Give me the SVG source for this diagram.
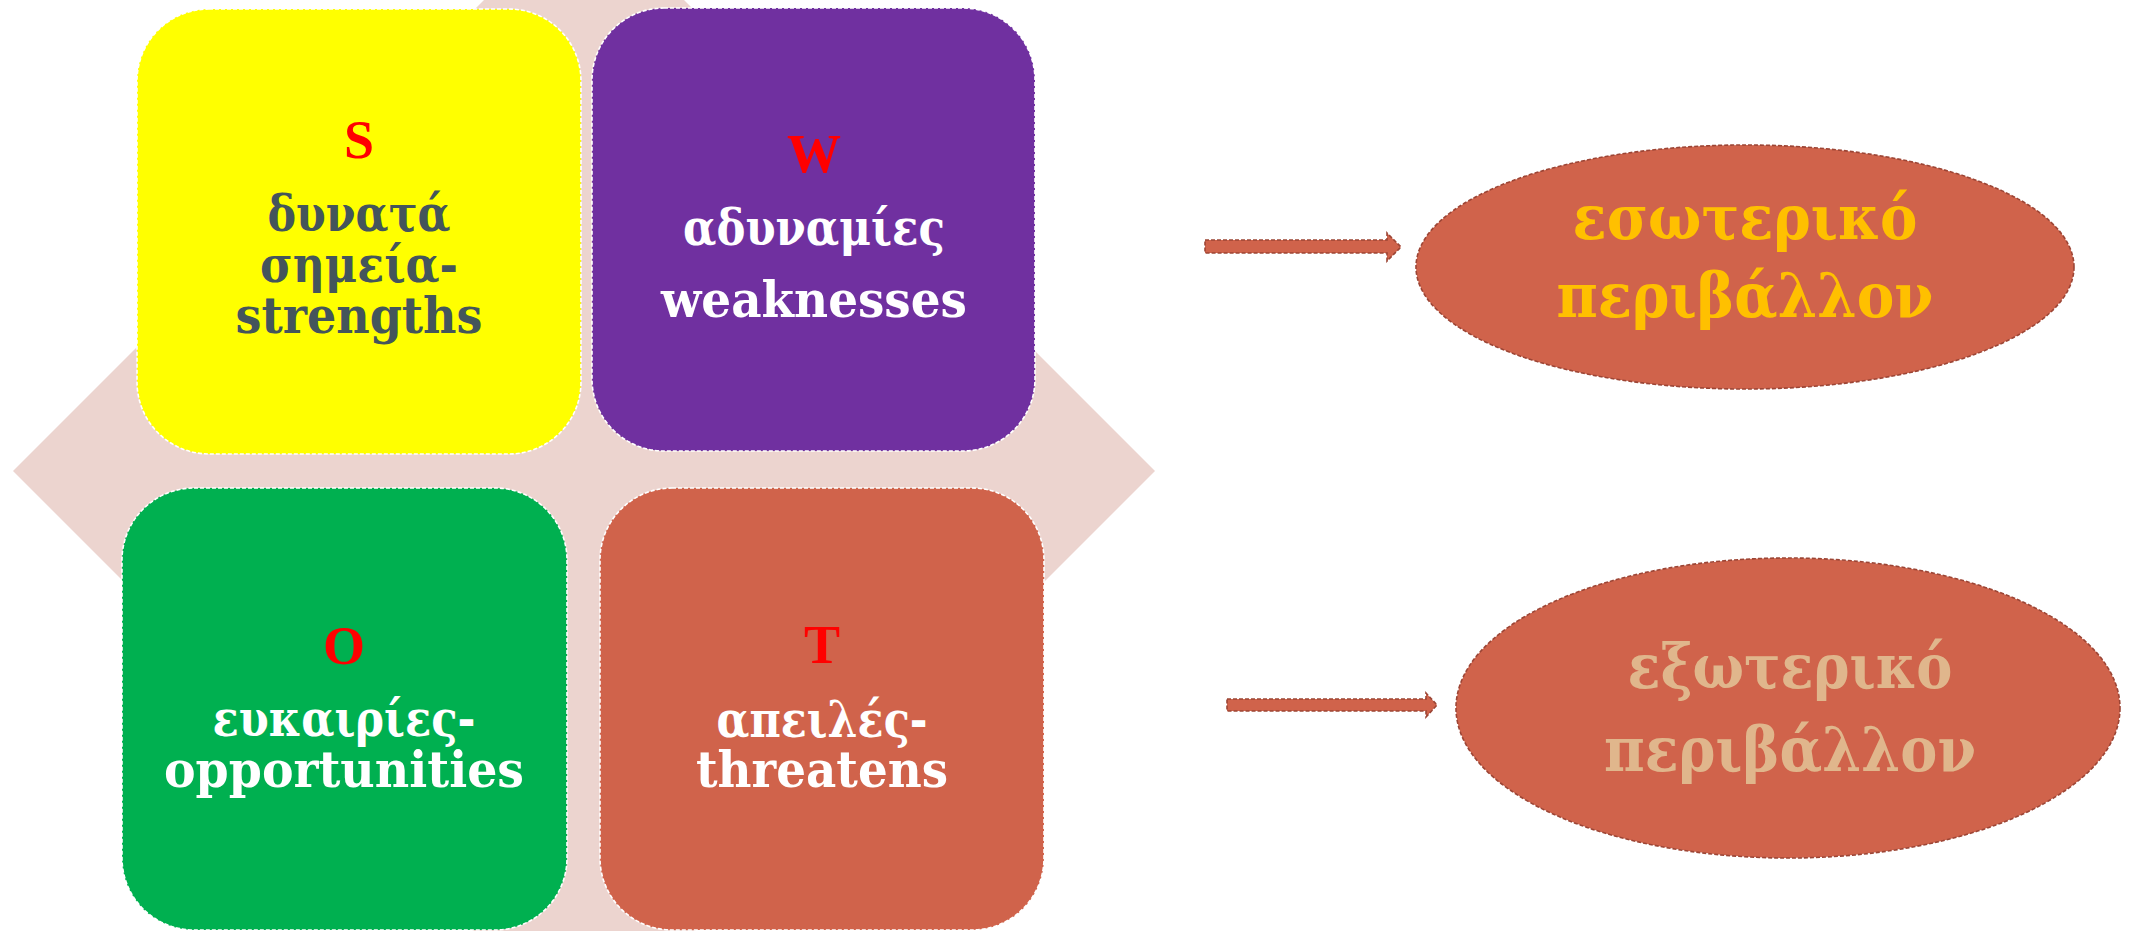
<svg xmlns="http://www.w3.org/2000/svg" width="2134" height="931" viewBox="0 0 2134 931">
<style>
.box{stroke:#ffffff;stroke-width:1.6;stroke-dasharray:4 2}
.ell{fill:#D0634B;stroke:#9C4535;stroke-width:1.6;stroke-dasharray:4 2}
.arr{fill:#D0634B;stroke:#9C4535;stroke-width:1.6;stroke-dasharray:4 2}
.let{font-family:"Liberation Serif","Times New Roman",serif;font-weight:bold;font-size:54px;fill:#FF0000;text-anchor:middle}
.t{font-family:"DejaVu Serif","Liberation Serif",serif;font-weight:bold;font-size:50px;text-anchor:middle}
.e{font-family:"DejaVu Serif","Liberation Serif",serif;font-weight:bold;font-size:62px;text-anchor:middle}
</style>
<rect width="2134" height="931" fill="#ffffff"/>
<polygon id="background" points="13,471 484,0 684,0 1155,471 684,942 484,942" fill="#ECD4CF"/>
<g id="node-S">
<rect class="box" x="137" y="9" width="444" height="445" rx="72" ry="72" fill="#FFFF00"/>
<text class="let" x="359" y="158">S</text>
<text class="t" fill="#44555B" x="359" y="231" textLength="183" lengthAdjust="spacingAndGlyphs">δυνατά</text>
<text class="t" fill="#44555B" x="359" y="282" textLength="198" lengthAdjust="spacingAndGlyphs">σημεία-</text>
<text class="t" fill="#44555B" x="359" y="333" textLength="247" lengthAdjust="spacingAndGlyphs">strengths</text>
</g>
<g id="node-W">
<rect class="box" x="592" y="8" width="443" height="443" rx="72" ry="72" fill="#7030A0"/>
<text class="let" x="814" y="172">W</text>
<text class="t" fill="#ffffff" x="814" y="245" textLength="262" lengthAdjust="spacingAndGlyphs">αδυναμίες</text>
<text class="t" fill="#ffffff" x="814" y="317" textLength="306" lengthAdjust="spacingAndGlyphs">weaknesses</text>
</g>
<g id="node-O">
<rect class="box" x="122" y="488" width="445" height="442" rx="72" ry="72" fill="#00B050"/>
<text class="let" x="344" y="664">O</text>
<text class="t" fill="#ffffff" x="344" y="736" textLength="263" lengthAdjust="spacingAndGlyphs">ευκαιρίες-</text>
<text class="t" fill="#ffffff" x="344" y="787" textLength="360" lengthAdjust="spacingAndGlyphs">opportunities</text>
</g>
<g id="node-T">
<rect class="box" x="600" y="488" width="444" height="442" rx="72" ry="72" fill="#D0634B"/>
<text class="let" x="822" y="663">T</text>
<text class="t" fill="#ffffff" x="822" y="737" textLength="211" lengthAdjust="spacingAndGlyphs">απειλές-</text>
<text class="t" fill="#ffffff" x="822" y="787" textLength="252" lengthAdjust="spacingAndGlyphs">threatens</text>
</g>
<g id="connectors">
<path class="arr" d="M1205,240 H1387 V233 L1401,247 L1387,261 V253 H1205 Z"/>
<path class="arr" d="M1227,699 H1426 V693 L1437,705 L1426,717 V711 H1227 Z"/>
</g>
<g id="node-internal">
<ellipse class="ell" cx="1745" cy="267" rx="329" ry="122"/>
<text class="e" fill="#FFC000" x="1745" y="239" textLength="345" lengthAdjust="spacingAndGlyphs">εσωτερικό</text>
<text class="e" fill="#FFC000" x="1745" y="317" textLength="377" lengthAdjust="spacingAndGlyphs">περιβάλλον</text>
</g>
<g id="node-external">
<ellipse class="ell" cx="1788" cy="708" rx="332" ry="150"/>
<text class="e" fill="#E0B68C" x="1790" y="688" textLength="325" lengthAdjust="spacingAndGlyphs">εξωτερικό</text>
<text class="e" fill="#E0B68C" x="1790" y="771" textLength="372" lengthAdjust="spacingAndGlyphs">περιβάλλον</text>
</g>
</svg>
